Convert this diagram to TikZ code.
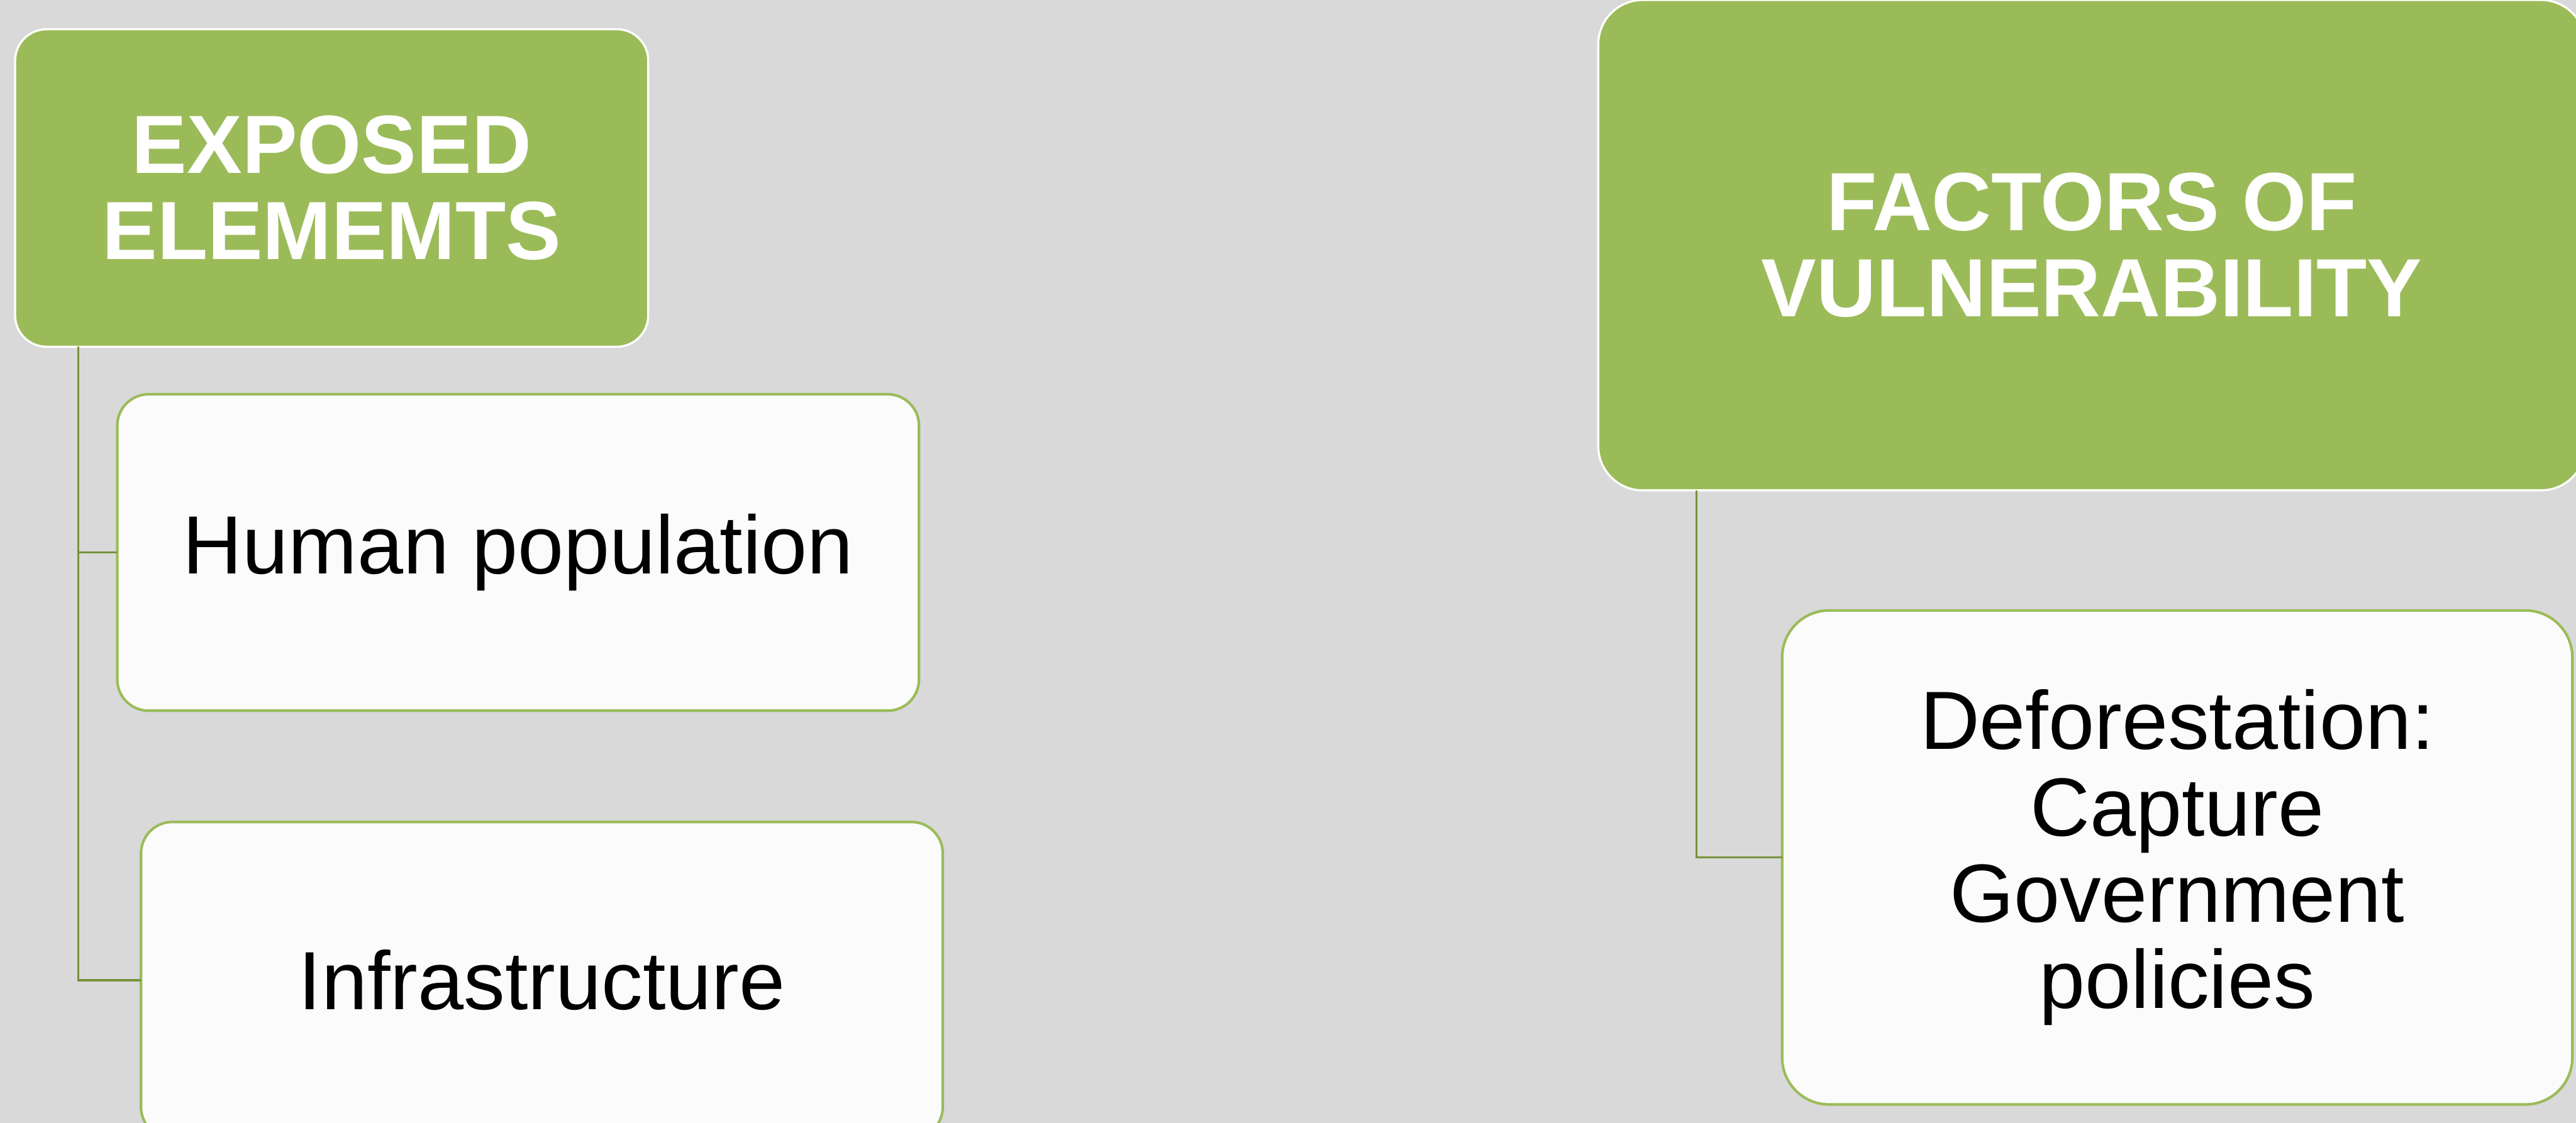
\documentclass[tikz,border=0pt]{standalone}
\usepackage{fontspec}
\setmainfont{Liberation Sans}
\usepackage{xcolor}
\usepackage{tikz}
\usetikzlibrary{positioning}

\definecolor{leafgreen}{HTML}{9BBB59}
\definecolor{linkgreen}{HTML}{76923C}
\definecolor{panel}{HTML}{D9D9D9}
\definecolor{cardwhite}{HTML}{FBFBFB}

\begin{document}
\begin{tikzpicture}[
    head/.style={draw=white, line width=0.04cm, fill=leafgreen, text=white, align=center, outer sep=0pt, font=\fontsize{45}{47}\selectfont\bfseries},
    item/.style={draw=leafgreen, line width=0.05cm, fill=cardwhite, align=center, outer sep=0pt, minimum width=15.35cm, minimum height=6.06cm, rounded corners=0.6cm, font=\fontsize{45}{47}\selectfont},
    link/.style={draw=linkgreen, line width=0.04cm}
  ]
    \useasboundingbox (0,0) rectangle (49.32,-21.5);
    \fill[panel] (0,0) rectangle (49.32,-21.5);
    \clip (0,0) rectangle (49.32,-21.5);
    \node[head, minimum width=12.12cm, minimum height=6.08cm, rounded corners=0.6cm] (exposed) at (6.35,-3.60) {EXPOSED\\ELEMEMTS};
    \node[item] (human) at (9.92,-10.58) {Human population};
    \node[item, below=2.13cm of human, xshift=0.455cm] (infra) {Infrastructure};
    \node[head, minimum width=18.90cm, minimum height=9.39cm, rounded corners=0.85cm] (factors) at (40.05,-4.695) {FACTORS OF\\VULNERABILITY};
    \node[item, minimum width=15.13cm, minimum height=9.46cm, rounded corners=0.9cm] (defor) at (41.685,-16.42) {Deforestation:\\Capture\\Government\\policies};
    \draw[link] (exposed.south west) ++(1.21,0) |- (human.west);
    \draw[link] (exposed.south west) ++(1.21,0) |- (infra.west);
    \draw[link] (factors.south west) ++(1.88,0) |- (defor.west);
  \end{tikzpicture}
\end{document}
